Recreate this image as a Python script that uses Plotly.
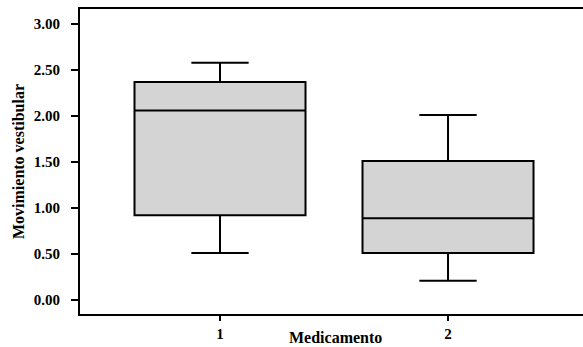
import plotly.graph_objects as go

categories = [1, 2]
tick_labels = ["1", "2"]
lower_whisker = [0.51, 0.21]
q1 = [0.92, 0.51]
median = [2.06, 0.89]
q3 = [2.37, 1.51]
upper_whisker = [2.58, 2.01]
y_ticks = [0, 0.5, 1.0, 1.5, 2.0, 2.5, 3.0]
y_tick_text = ["0.00", "0.50", "1.00", "1.50", "2.00", "2.50", "3.00"]

FAMILY = "Liberation Serif"
tick_font = dict(family=FAMILY, size=15, color="black")
title_font = dict(family=FAMILY, size=16, color="black")


def bold(items):
    return ["<b>%s</b>" % t for t in items]


fig = go.Figure()
fig.add_trace(go.Box(
    x=categories, q1=q1, median=median, q3=q3,
    lowerfence=lower_whisker, upperfence=upper_whisker,
    width=0.75, whiskerwidth=0.335,
    fillcolor="#d4d4d4", line=dict(color="black", width=2),
    boxpoints=False, showlegend=False, hoverinfo="skip",
))

fig.update_layout(
    width=583, height=347,
    margin=dict(l=80, r=0, t=9, b=33),
    plot_bgcolor="white", paper_bgcolor="white",
    font=tick_font,
    xaxis=dict(
        range=[0.386, 2.592], tickvals=categories, ticktext=bold(tick_labels),
        showline=True, linecolor="black", linewidth=2, mirror=True,
        ticks="outside", ticklen=5, tickwidth=2, tickcolor="black",
        showgrid=False, zeroline=False, tickfont=tick_font,
    ),
    yaxis=dict(
        range=[-0.152, 3.163], tickvals=y_ticks, ticktext=bold(y_tick_text),
        showline=True, linecolor="black", linewidth=2,
        ticks="outside", ticklen=7, tickwidth=2, tickcolor="black",
        showgrid=False, zeroline=False, tickfont=tick_font,
        ticklabelstandoff=8,
        title=dict(text="<b>Movimiento vestibular</b>", font=title_font, standoff=5),
    ),
    annotations=[dict(
        text="<b>Medicamento</b>", xref="paper", yref="paper", x=0.508, y=0,
        yshift=-13, yanchor="top", showarrow=False, font=title_font,
    )],
)

fig.write_html(
    "out.html",
    config={"displayModeBar": False, "staticPlot": True},
    post_script="document.body.style.margin='0px';document.body.style.overflow='hidden';",
)
